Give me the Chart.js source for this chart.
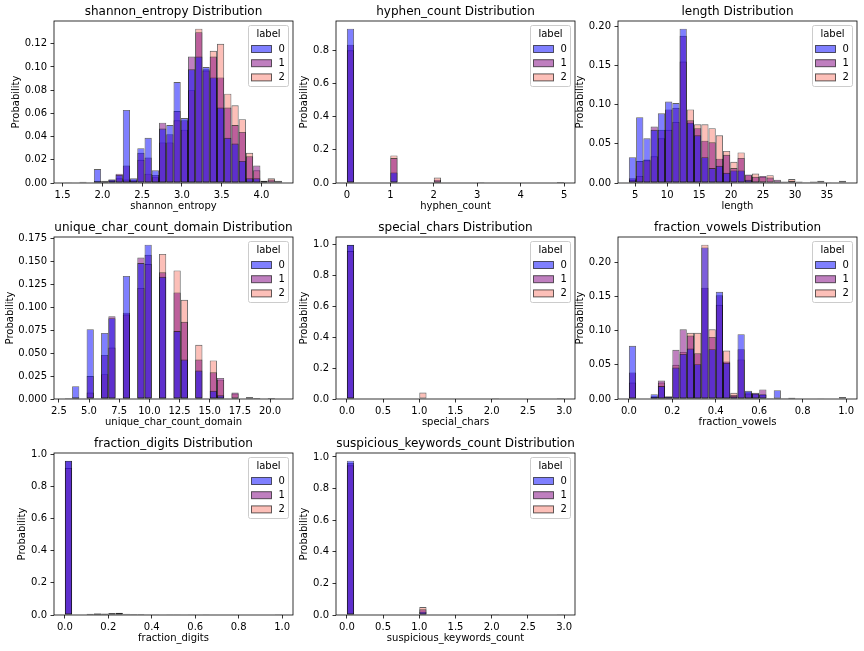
<!DOCTYPE html>
<html>
<head>
<meta charset="utf-8">
<script src="https://cdn.jsdelivr.net/npm/chart.js@4.4.0/dist/chart.umd.min.js"></script>
<style>
  html, body { margin: 0; background: #fff; }
  #fig { position: relative; width: 864px; height: 651px; }
  #fig canvas { position: absolute; }
</style>
</head>
<body>
<div id="fig"></div>
<script>
// hue levels
const hueName = 'label';
const hueLabels = ['0', '1', '2'];

// shannon_entropy (30 bins between the range edges)
const entropyRange = [1.529, 4.259];
const entropy0 = [0.0005, 0, 0.001, 0, 0.012, 0.002, 0.003, 0.007, 0.063, 0.004, 0.030, 0.039, 0.011, 0.047, 0.050, 0.087, 0.056, 0.098, 0.109, 0.100, 0.091, 0.065, 0.039, 0.034, 0.019, 0.004, 0.004, 0.001, 0, 0];
const entropy1 = [0, 0, 0.0003, 0, 0.002, 0.001, 0.003, 0.008, 0.015, 0.003, 0.026, 0.022, 0.007, 0.052, 0.042, 0.062, 0.054, 0.109, 0.130, 0.098, 0.109, 0.091, 0.065, 0.050, 0.044, 0.023, 0.015, 0.002, 0.003, 0.002];
const entropy2 = [0.0003, 0, 0, 0, 0.001, 0.001, 0.002, 0.004, 0.003, 0.002, 0.020, 0.008, 0.005, 0.035, 0.035, 0.054, 0.046, 0.080, 0.133, 0.097, 0.114, 0.120, 0.077, 0.067, 0.055, 0.026, 0.011, 0.002, 0.004, 0.001];
const entropyXTicks = ['1.5', '2.0', '2.5', '3.0', '3.5', '4.0'];
const entropyYTicks = ['0.00', '0.02', '0.04', '0.06', '0.08', '0.10', '0.12'];

// hyphen_count
const hyphenRange = [0, 5];
const hyphen0 = [0.930, 0, 0, 0, 0, 0, 0.064, 0, 0, 0, 0, 0, 0.008, 0, 0, 0, 0, 0, 0.001, 0, 0, 0, 0, 0, 0, 0, 0, 0, 0, 0.0005];
const hyphen1 = [0.834, 0, 0, 0, 0, 0, 0.150, 0, 0, 0, 0, 0, 0.020, 0, 0, 0, 0, 0, 0.001, 0, 0, 0, 0, 0, 0, 0, 0, 0, 0, 0];
const hyphen2 = [0.800, 0, 0, 0, 0, 0, 0.166, 0, 0, 0, 0, 0, 0.033, 0, 0, 0, 0, 0, 0.001, 0, 0, 0, 0, 0, 0, 0, 0, 0, 0, 0.0005];
const hyphenXTicks = ['0', '1', '2', '3', '4', '5'];
const hyphenYTicks = ['0.0', '0.2', '0.4', '0.6', '0.8'];

// length
const lengthRange = [4, 38];
const length0 = [0.033, 0.084, 0.057, 0.068, 0.089, 0.104, 0.102, 0.197, 0.077, 0.061, 0.033, 0.019, 0.022, 0.013, 0.016, 0.016, 0.004, 0.002, 0.002, 0.001, 0.001, 0.001, 0, 0, 0, 0, 0, 0, 0, 0];
const length1 = [0.006, 0.028, 0.030, 0.072, 0.068, 0.094, 0.096, 0.188, 0.080, 0.070, 0.054, 0.052, 0.031, 0.036, 0.019, 0.032, 0.011, 0.008, 0.009, 0.007, 0.004, 0.002, 0.003, 0.002, 0.001, 0.002, 0.003, 0.001, 0, 0.003];
const length2 = [0.004, 0.009, 0.029, 0.034, 0.057, 0.068, 0.078, 0.155, 0.094, 0.075, 0.075, 0.070, 0.061, 0.041, 0.027, 0.039, 0.010, 0.012, 0.008, 0.010, 0.002, 0.001, 0.005, 0.001, 0.001, 0.001, 0.001, 0, 0, 0.001];
const lengthXTicks = ['5', '10', '15', '20', '25', '30', '35'];
const lengthYTicks = ['0.00', '0.05', '0.10', '0.15', '0.20'];

// unique_char_count_domain
const uniqueRange = [3, 21];
const unique0 = [0.001, 0.014, 0, 0.076, 0, 0.072, 0.088, 0, 0.134, 0, 0.148, 0.168, 0, 0.133, 0, 0.074, 0.043, 0, 0.031, 0, 0.009, 0.004, 0, 0.001, 0, 0, 0, 0, 0, 0];
const unique1 = [0, 0.002, 0, 0.025, 0, 0.048, 0.090, 0, 0.094, 0, 0.154, 0.157, 0, 0.138, 0, 0.116, 0.084, 0, 0.043, 0, 0.029, 0.023, 0, 0.007, 0, 0.002, 0.001, 0, 0.001, 0.0005];
const unique2 = [0, 0.001, 0, 0.007, 0, 0.027, 0.056, 0, 0.092, 0, 0.121, 0.147, 0, 0.158, 0, 0.140, 0.108, 0, 0.059, 0, 0.042, 0.021, 0, 0.006, 0, 0.002, 0.001, 0, 0.001, 0.0005];
const uniqueXTicks = ['2.5', '5.0', '7.5', '10.0', '12.5', '15.0', '17.5', '20.0'];
const uniqueYTicks = ['0.000', '0.025', '0.050', '0.075', '0.100', '0.125', '0.150', '0.175'];

// special_chars
const specialRange = [0, 3];
const special0 = [0.998, 0, 0, 0, 0, 0, 0, 0, 0, 0, 0.001, 0, 0, 0, 0, 0, 0, 0, 0, 0, 0.001, 0, 0, 0, 0, 0, 0, 0, 0, 0.0003];
const special1 = [0.996, 0, 0, 0, 0, 0, 0, 0, 0, 0, 0.003, 0, 0, 0, 0, 0, 0, 0, 0, 0, 0.001, 0, 0, 0, 0, 0, 0, 0, 0, 0];
const special2 = [0.957, 0, 0, 0, 0, 0, 0, 0, 0, 0, 0.042, 0, 0, 0, 0, 0, 0, 0, 0, 0, 0.001, 0, 0, 0, 0, 0, 0, 0, 0, 0];
const specialXTicks = ['0.0', '0.5', '1.0', '1.5', '2.0', '2.5', '3.0'];
const specialYTicks = ['0.0', '0.2', '0.4', '0.6', '0.8', '1.0'];

// fraction_vowels
const vowelsRange = [0, 1];
const vowels0 = [0.078, 0, 0, 0.007, 0.019, 0.004, 0.046, 0.066, 0.074, 0.051, 0.222, 0.073, 0.157, 0.053, 0.004, 0.095, 0.012, 0.008, 0.007, 0.001, 0.013, 0.001, 0.002, 0.001, 0, 0, 0, 0, 0, 0.003];
const vowels1 = [0.039, 0, 0, 0.004, 0.027, 0.003, 0.072, 0.102, 0.093, 0.067, 0.163, 0.091, 0.152, 0.055, 0.006, 0.073, 0.010, 0.009, 0.014, 0.001, 0.002, 0.001, 0.002, 0, 0, 0, 0.0005, 0, 0, 0.0005];
const vowels2 = [0.024, 0, 0, 0.003, 0.024, 0.002, 0.050, 0.069, 0.097, 0.097, 0.226, 0.102, 0.138, 0.071, 0.009, 0.058, 0.008, 0.007, 0.006, 0.001, 0.001, 0, 0.001, 0, 0, 0, 0, 0, 0, 0.0005];
const vowelsXTicks = ['0.0', '0.2', '0.4', '0.6', '0.8', '1.0'];
const vowelsYTicks = ['0.00', '0.05', '0.10', '0.15', '0.20'];

// fraction_digits
const digitsRange = [0, 1];
const digits0 = [0.959, 0, 0, 0.006, 0.008, 0.006, 0.005, 0.004, 0.003, 0.002, 0.001, 0.001, 0.001, 0, 0.001, 0, 0, 0, 0, 0, 0, 0, 0, 0, 0, 0, 0, 0, 0, 0.001];
const digits1 = [0.958, 0, 0, 0.005, 0.010, 0.004, 0.010, 0.012, 0.001, 0, 0, 0, 0, 0, 0, 0, 0, 0, 0, 0, 0, 0, 0, 0, 0, 0, 0, 0, 0, 0];
const digits2 = [0.913, 0, 0, 0.008, 0.010, 0.009, 0.012, 0.014, 0.007, 0.006, 0.006, 0.003, 0.003, 0, 0.003, 0.002, 0, 0.002, 0, 0.001, 0, 0, 0, 0, 0, 0, 0, 0, 0, 0.002];
const digitsXTicks = ['0.0', '0.2', '0.4', '0.6', '0.8', '1.0'];
const digitsYTicks = ['0.0', '0.2', '0.4', '0.6', '0.8', '1.0'];

// suspicious_keywords_count
const suspRange = [0, 3];
const susp0 = [0.976, 0, 0, 0, 0, 0, 0, 0, 0, 0, 0.021, 0, 0, 0, 0, 0, 0, 0, 0, 0, 0.002, 0, 0, 0, 0, 0, 0, 0, 0, 0.001];
const susp1 = [0.962, 0, 0, 0, 0, 0, 0, 0, 0, 0, 0.036, 0, 0, 0, 0, 0, 0, 0, 0, 0, 0.002, 0, 0, 0, 0, 0, 0, 0, 0, 0];
const susp2 = [0.947, 0, 0, 0, 0, 0, 0, 0, 0, 0, 0.050, 0, 0, 0, 0, 0, 0, 0, 0, 0, 0.002, 0, 0, 0, 0, 0, 0, 0, 0, 0.001];
const suspXTicks = ['0.0', '0.5', '1.0', '1.5', '2.0', '2.5', '3.0'];
const suspYTicks = ['0.0', '0.2', '0.4', '0.6', '0.8', '1.0'];

const panels = [
  {name: 'shannon_entropy', range: entropyRange, series: [entropy0, entropy1, entropy2], xTicks: entropyXTicks, yTicks: entropyYTicks},
  {name: 'hyphen_count', range: hyphenRange, series: [hyphen0, hyphen1, hyphen2], xTicks: hyphenXTicks, yTicks: hyphenYTicks},
  {name: 'length', range: lengthRange, series: [length0, length1, length2], xTicks: lengthXTicks, yTicks: lengthYTicks},
  {name: 'unique_char_count_domain', range: uniqueRange, series: [unique0, unique1, unique2], xTicks: uniqueXTicks, yTicks: uniqueYTicks},
  {name: 'special_chars', range: specialRange, series: [special0, special1, special2], xTicks: specialXTicks, yTicks: specialYTicks},
  {name: 'fraction_vowels', range: vowelsRange, series: [vowels0, vowels1, vowels2], xTicks: vowelsXTicks, yTicks: vowelsYTicks},
  {name: 'fraction_digits', range: digitsRange, series: [digits0, digits1, digits2], xTicks: digitsXTicks, yTicks: digitsYTicks},
  {name: 'suspicious_keywords_count', range: suspRange, series: [susp0, susp1, susp2], xTicks: suspXTicks, yTicks: suspYTicks},
];

// layout of the 3x3 grid (axes boxes)
const AX_LEFT = [54, 336, 618];
const AX_TOP = [21, 237, 453];
const AX_W = 239, AX_H = 162;
const Y_AREA = 54, TITLE_H = 21, X_AREA = 33, RIGHT_PAD = 6;

const FILL = ['rgba(0,0,255,0.5)', 'rgba(128,0,128,0.5)', 'rgba(250,128,114,0.5)'];
const EDGE = 'rgba(0,0,0,0.62)';
const FONT = "'DejaVu Sans', sans-serif";

Chart.defaults.font.family = FONT;
Chart.defaults.color = '#000';

const measure = document.createElement('canvas').getContext('2d');
measure.font = "10px 'DejaVu Sans'";

const frame = {
  id: 'frame',
  afterDatasetsDraw(chart) {
    const {ctx, chartArea: a} = chart;
    ctx.save();
    ctx.strokeStyle = '#000';
    ctx.lineWidth = 0.8;
    ctx.strokeRect(a.left, a.top, a.right - a.left, a.bottom - a.top);
    ctx.restore();
  }
};

const hueLegend = {
  id: 'hueLegend',
  afterDatasetsDraw(chart) {
    const {ctx, chartArea: a} = chart;
    const w = 40, h = 61;
    const x = Math.round(a.right - 5 - w) + 0.5, y = Math.round(a.top + 4) + 0.5;
    ctx.save();
    ctx.beginPath();
    ctx.roundRect(x, y, w, h, 2);
    ctx.fillStyle = 'rgba(255,255,255,0.8)';
    ctx.fill();
    ctx.strokeStyle = '#cccccc';
    ctx.lineWidth = 1;
    ctx.stroke();
    ctx.font = "10px 'DejaVu Sans'";
    ctx.textBaseline = 'middle';
    ctx.fillStyle = '#000';
    ctx.textAlign = 'center';
    ctx.fillText(hueName, x + w / 2, y + 9);
    ctx.textAlign = 'left';
    chart.data.datasets.forEach((ds, i) => {
      const cy = y + 23.5 + i * 14.2;
      ctx.fillStyle = ds.backgroundColor;
      ctx.fillRect(x + 3, cy - 3.5, 20, 7);
      ctx.strokeStyle = ds.borderColor;
      ctx.strokeRect(x + 3, cy - 3.5, 20, 7);
      ctx.fillStyle = '#000';
      ctx.fillText(ds.label, x + 30, cy);
    });
    ctx.restore();
  }
};

const fig = document.getElementById('fig');

panels.forEach((p, i) => {
  const col = i % 3, row = Math.floor(i / 3);
  const canvas = document.createElement('canvas');
  const cw = Y_AREA + AX_W + RIGHT_PAD, ch = TITLE_H + AX_H + X_AREA;
  canvas.width = cw; canvas.height = ch;
  canvas.style.width = cw + 'px'; canvas.style.height = ch + 'px';
  canvas.style.left = (AX_LEFT[col] - Y_AREA) + 'px';
  canvas.style.top = (AX_TOP[row] - TITLE_H) + 'px';
  fig.appendChild(canvas);

  const [lo, hi] = p.range;
  const bw = (hi - lo) / p.series[0].length;
  const xPad = (hi - lo) * 0.05;
  const yMax = Math.max(...p.series.flat()) * 1.05;

  const widest = Math.max(...p.yTicks.map(t => measure.measureText(t).width));
  const yTitlePad = Y_AREA - 7 - widest - 4 - 5.8 - 4.5;

  const datasets = p.series.map((vals, h) => ({
    label: hueLabels[h],
    data: vals.map((v, k) => ({x: lo + (k + 0.5) * bw, y: v})),
    backgroundColor: FILL[h],
    borderColor: EDGE,
    borderWidth: 0.9,
    borderSkipped: false,
    barPercentage: 1,
    categoryPercentage: 1,
    grouped: false,
    inflateAmount: 0
  }));

  new Chart(canvas, {
    type: 'bar',
    data: {datasets},
    options: {
      responsive: false,
      animation: false,
      devicePixelRatio: 1,
      layout: {padding: {left: 0, top: 0, right: RIGHT_PAD, bottom: 0}},
      plugins: {
        legend: {display: false},
        tooltip: {enabled: false},
        title: {
          display: true,
          text: p.name + ' Distribution',
          color: '#000',
          fullSize: false,
          font: {size: 12, weight: 'normal', lineHeight: 1.2},
          padding: {top: 4.5, bottom: 2.1}
        }
      },
      scales: {
        x: {
          type: 'linear',
          offset: false,
          min: lo - xPad,
          max: hi + xPad,
          afterFit: s => { s.height = X_AREA; },
          afterBuildTicks: s => { s.ticks = p.xTicks.map(t => ({value: parseFloat(t)})); },
          ticks: {
            autoSkip: false, maxRotation: 0, padding: 3, color: '#000',
            font: {size: 10, lineHeight: 1.2},
            callback: (v, k) => p.xTicks[k]
          },
          grid: {display: true, offset: false, drawOnChartArea: false, drawTicks: true, tickLength: 3.5, tickWidth: 0.8, tickColor: '#000'},
          border: {display: false},
          title: {display: true, text: p.name, color: '#000', font: {size: 10, lineHeight: 1.2}, padding: {top: 0, bottom: 4}}
        },
        y: {
          type: 'linear',
          min: 0,
          max: yMax,
          afterFit: s => { s.width = Y_AREA; },
          afterBuildTicks: s => { s.ticks = p.yTicks.map(t => ({value: parseFloat(t)})); },
          ticks: {
            autoSkip: false, padding: 3.5, color: '#000',
            font: {size: 10, lineHeight: 1.2},
            callback: (v, k) => p.yTicks[k]
          },
          grid: {display: true, drawOnChartArea: false, drawTicks: true, tickLength: 3.5, tickWidth: 0.8, tickColor: '#000'},
          border: {display: false},
          title: {display: true, text: 'Probability', color: '#000', font: {size: 10, lineHeight: 1.2}, padding: {top: yTitlePad, bottom: 0}}
        }
      }
    },
    plugins: [frame, hueLegend]
  });
});
</script>
</body>
</html>
